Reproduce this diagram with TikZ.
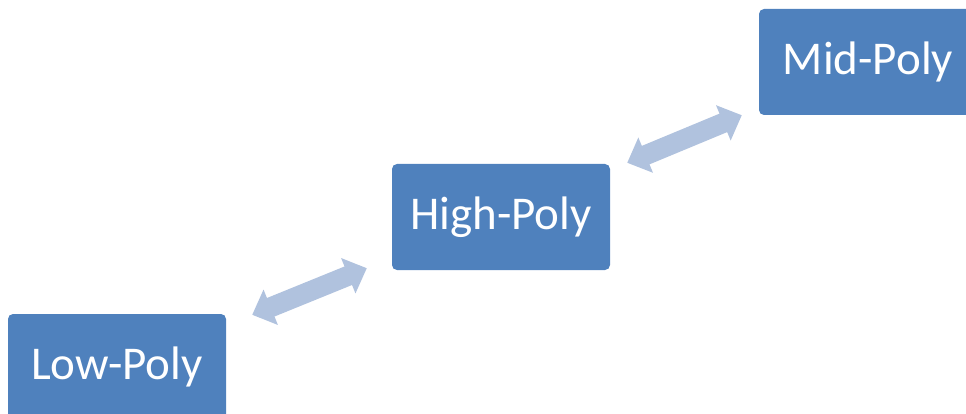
\documentclass[tikz,border=0pt]{standalone}
\usepackage{fontspec}
\setmainfont{Carlito}
\usetikzlibrary{arrows.meta,calc}
\definecolor{boxblue}{HTML}{4F81BD}
\definecolor{arrowblue}{HTML}{B0C2DE}
\begin{document}
\begin{tikzpicture}[x=1pt,y=-1pt,
  polybox/.style={fill=boxblue, draw=none, rounded corners=5pt, minimum width=218pt, minimum height=106pt, inner sep=0pt, text=white, font=\fontsize{47}{54}\selectfont},
  dblarrow/.style={draw=arrowblue, line width=20pt, {Triangle[width=37pt,length=20pt]}-{Triangle[width=37pt,length=20pt]}}]
\useasboundingbox (0,0) rectangle (966,414);
\node[polybox] (low) at (117,367) {Low-Poly};
\node[polybox] (high) at (501,217) {High-Poly};
\node[polybox] (mid) at (868,62) {Mid-Poly};
\draw[dblarrow] ($(low.north east)+(26,1)$) -- ($(high.south west)+(-25,-2)$);
\draw[dblarrow] ($(high.north east)+(17,-1)$) -- ($(mid.south west)+(-17,0)$);
\end{tikzpicture}
\end{document}
